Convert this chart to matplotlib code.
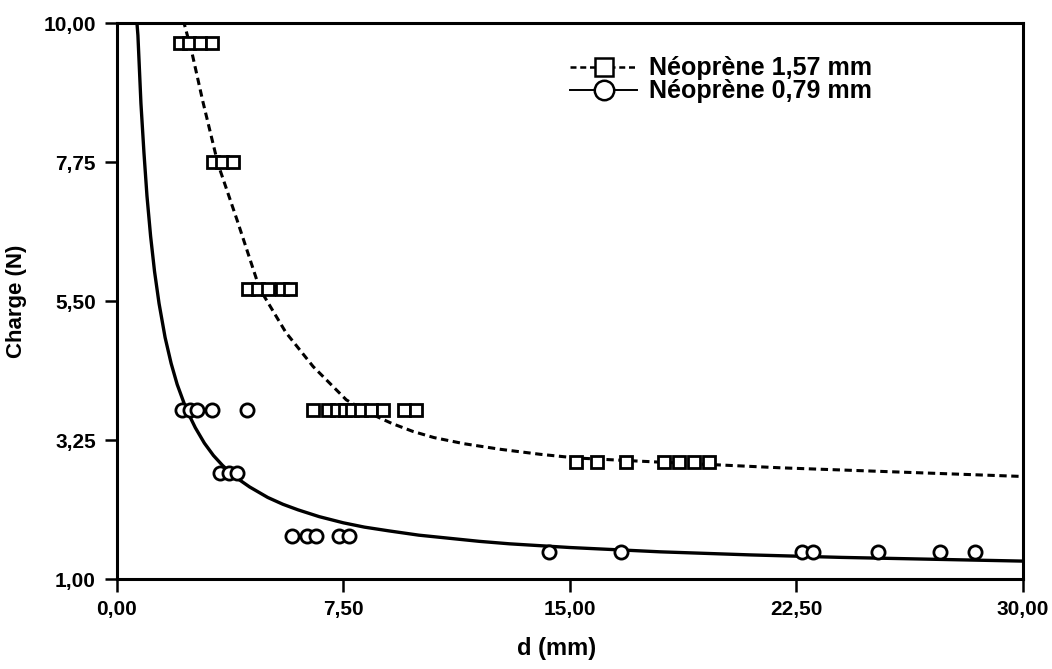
import numpy as np
import matplotlib.pyplot as plt
from matplotlib.lines import Line2D

plt.rcParams['font.family'] = ['Liberation Sans', 'DejaVu Sans']

# mesures, neoprene 1,57 mm (carres)
sq_d = [2.1, 2.4, 2.75, 3.15,
        3.18, 3.5, 3.84,
        4.34, 4.67, 5.0, 5.46, 5.73,
        6.5, 7.0, 7.3, 7.55, 7.8, 8.1, 8.4, 8.8, 9.5, 9.9,
        15.2, 15.9, 16.85, 18.1, 18.6, 19.1, 19.6]
sq_f = [9.67] * 4 + [7.75] * 3 + [5.7] * 5 + [3.74] * 10 + [2.9] * 7

# mesures, neoprene 0,79 mm (cercles)
ci_d = [2.15, 2.42, 2.65, 3.15, 4.3,
        3.41, 3.72, 3.97,
        5.8, 6.3, 6.6, 7.35, 7.7,
        14.3, 16.7, 22.7, 23.05, 25.2, 27.25, 28.4]
ci_f = [3.73] * 5 + [2.71] * 3 + [1.69] * 5 + [1.43] * 7

# courbes
fit1_d = [2.2, 2.48, 2.85, 3.35, 3.97, 4.73, 5.6, 6.5, 7.6, 8.3, 9.1, 9.8, 10.5,
          11.5, 12.7, 14.0, 15.2, 16.8, 18.5, 22, 26, 30]
fit1_f = [10.05, 9.54, 8.73, 7.72, 6.83, 5.70, 4.99, 4.44, 3.90, 3.70, 3.52, 3.39, 3.29,
          3.19, 3.10, 3.02, 2.96, 2.92, 2.88, 2.80, 2.73, 2.66]
fit2_d = [0.62, 0.7, 0.8, 0.9, 1.0, 1.12, 1.25, 1.4, 1.6, 1.8, 2.0, 2.3, 2.6,
          2.9, 3.2, 3.5, 3.9, 4.4, 5.0, 5.5, 6.0, 6.7, 7.5, 8.2, 9.0, 10, 11,
          12, 13, 15, 18, 21, 24, 27, 30]
fit2_f = [10.3, 9.8, 8.7, 7.9, 7.2, 6.55, 5.98, 5.46, 4.91, 4.49, 4.15, 3.75, 3.45,
          3.2, 3.0, 2.84, 2.66, 2.49, 2.32, 2.21, 2.12, 2.01, 1.91, 1.84, 1.78,
          1.71, 1.66, 1.61, 1.57, 1.51, 1.44, 1.39, 1.35, 1.32, 1.29]

xticks = [0, 7.5, 15, 22.5, 30]
xlabels = ['0,00', '7,50', '15,00', '22,50', '30,00']
yticks = [1, 3.25, 5.5, 7.75, 10]
ylabels = ['1,00', '3,25', '5,50', '7,75', '10,00']

fig = plt.figure(figsize=(10.52, 6.69), dpi=100)
ax = fig.add_axes([0.111, 0.1345, 0.8614, 0.831])

ax.plot(fit1_d, fit1_f, color='black', lw=2.2, dashes=(2.4, 1.5))
ax.plot(fit2_d, fit2_f, color='black', lw=2.4)
ax.plot(sq_d, sq_f, ls='none', marker='s', ms=9, mfc='white', mec='black', mew=2)
ax.plot(ci_d, ci_f, ls='none', marker='o', ms=9.5, mfc='white', mec='black', mew=2)

ax.set_xlim(0, 30)
ax.set_ylim(1, 10)
ax.set_xticks(xticks)
ax.set_xticklabels(xlabels)
ax.set_yticks(yticks)
ax.set_yticklabels(ylabels)
for lab in ax.get_xticklabels() + ax.get_yticklabels():
    lab.set_fontweight('bold')
ax.tick_params(direction='out', length=9, width=1.8, labelsize=15, pad=6)
for sp in ax.spines.values():
    sp.set_linewidth(2.2)

ax.set_xlabel('d (mm)', fontsize=17, fontweight='bold', labelpad=12)
ax.xaxis.set_label_coords(0.485, -0.105)
ax.set_ylabel('Charge (N)', fontsize=16, fontweight='bold', labelpad=12)

h1 = Line2D([], [], color='black', lw=1.8, dashes=(2.4, 1.5), marker='s', ms=13,
            mfc='white', mec='black', mew=1.8)
h2 = Line2D([], [], color='black', lw=1.4, marker='o', ms=14,
            mfc='white', mec='black', mew=1.8)
ax.legend([h1, h2], ['Néoprène 1,57 mm', 'Néoprène 0,79 mm'],
          loc='upper left', bbox_to_anchor=(0.5, 0.94), frameon=False,
          prop={'size': 18, 'weight': 'bold'}, handlelength=2.7,
          handletextpad=0.45, labelspacing=-0.04, borderpad=0, borderaxespad=0)

fig.savefig('out.png', dpi=100)
